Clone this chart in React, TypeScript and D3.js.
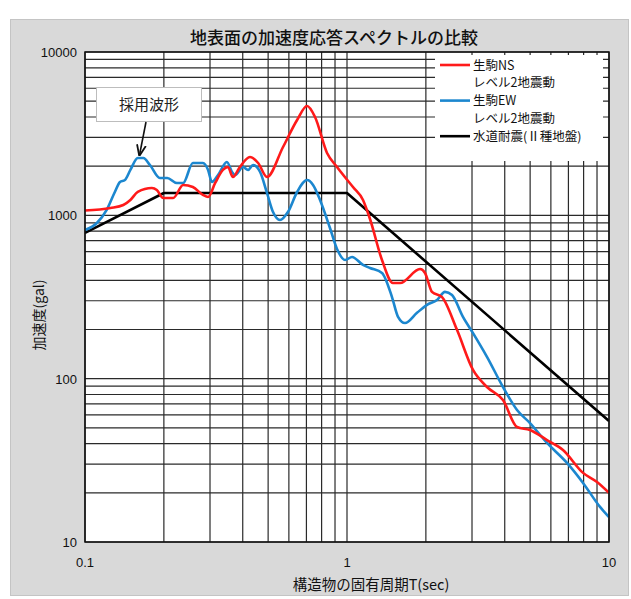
import React from 'react';
import * as d3 from 'd3';

// periods T (sec) and spectral acceleration (gal)
const nsT = [0.1, 0.125, 0.14, 0.149, 0.159, 0.18, 0.188, 0.199, 0.217, 0.237, 0.258, 0.282, 0.295, 0.314, 0.336, 0.351, 0.367, 0.39, 0.426, 0.458, 0.495, 0.57, 0.645, 0.704, 0.755, 0.839, 0.916, 1.054, 1.151, 1.224, 1.36, 1.498, 1.594, 1.9, 1.985, 2.11, 2.305, 2.629, 3.027, 3.422, 3.939, 4.456, 4.994, 5.799, 6.674, 7.96, 9.0, 10];
const nsA = [1070, 1109, 1157, 1242, 1390, 1469, 1429, 1276, 1276, 1535, 1490, 1334, 1294, 1578, 1896, 1977, 1718, 1977, 2276, 2091, 1718, 2620, 3836, 4670, 4000, 2408, 1977, 1490, 1242, 950, 533, 385, 385, 469, 444, 340, 316, 199, 113, 88.9, 74, 50.6, 48.5, 42.1, 36.6, 26.5, 23.3, 20];

const ewT = [0.1, 0.111, 0.121, 0.13, 0.136, 0.142, 0.149, 0.159, 0.167, 0.177, 0.193, 0.206, 0.224, 0.237, 0.258, 0.282, 0.295, 0.305, 0.322, 0.348, 0.364, 0.374, 0.401, 0.419, 0.438, 0.466, 0.495, 0.522, 0.555, 0.595, 0.645, 0.704, 0.742, 0.789, 0.861, 0.916, 0.983, 1.045, 1.151, 1.224, 1.36, 1.485, 1.566, 1.665, 1.85, 2.02, 2.206, 2.366, 2.517, 2.771, 3.027, 3.422, 3.939, 4.456, 4.994, 5.799, 6.913, 7.96, 9.24, 10];
const ewA = [813, 897, 1079, 1390, 1600, 1645, 1896, 2244, 2244, 2033, 1694, 1694, 1578, 1578, 2091, 2091, 1896, 1600, 1766, 2122, 1843, 1766, 1977, 1896, 2033, 1843, 1371, 1047, 936, 1047, 1390, 1645, 1535, 1242, 837, 622, 533, 556, 497, 476, 444, 316, 239, 219, 253, 283, 303, 340, 325, 239, 190, 136, 88.9, 64.3, 53.5, 40.4, 30.5, 23, 16.4, 14.2];

const stdT = [0.1, 0.2, 1.0, 10];
const stdA = [780, 1370, 1370, 55];

const xTicks = [0.1, 1, 10];
const xTickLabels = ['0.1', '1', '10'];
const yTicks = [10, 100, 1000, 10000];
const yTickLabels = ['10', '100', '1000', '10000'];

const legendNames = ['生駒NS', 'レベル2地震動', '生駒EW', 'レベル2地震動', '水道耐震(Ⅱ種地盤)'];
const legendColors = ['#ff1a1a', null, '#1c87cf', null, '#000000'];

const JP = '"Noto Sans CJK JP", "Noto Sans", sans-serif';
const NUM = '"Liberation Sans", Arial, sans-serif';

export default function App() {
  const W = 631;
  const H = 599;
  const left = 85, right = 609, top = 52, bottom = 542;

  const x = d3.scaleLog().domain([0.1, 10]).range([left, right]);
  const y = d3.scaleLog().domain([10, 10000]).range([bottom, top]);

  const smooth = d3
    .line<[number, number]>()
    .x(d => x(d[0]))
    .y(d => y(d[1]))
    .curve(d3.curveMonotoneX);
  const straight = d3
    .line<[number, number]>()
    .x(d => x(d[0]))
    .y(d => y(d[1]));

  const ns = nsT.map((t, i) => [t, nsA[i]] as [number, number]);
  const ew = ewT.map((t, i) => [t, ewA[i]] as [number, number]);
  const std = stdT.map((t, i) => [t, stdA[i]] as [number, number]);

  // gridlines 1..9 x each decade
  const xGrid: number[] = [];
  for (const dec of [0.1, 1]) for (let k = 1; k <= 9; k++) xGrid.push(dec * k);
  xGrid.push(10);
  const yGrid: number[] = [];
  for (const dec of [10, 100, 1000]) for (let k = 1; k <= 9; k++) yGrid.push(dec * k);
  yGrid.push(10000);

  const series = [
    { d: straight(std), color: '#000000' },
    { d: smooth(ew), color: '#1c87cf' },
    { d: smooth(ns), color: '#ff1a1a' },
  ];

  // legend box
  const lg = { x: 435, y: 55, w: 168, h: 106 };
  const rowH = 17.8;

  return (
    <svg width={W} height={H} style={{ position: 'absolute', left: 0, top: 0 }}>
      <rect x={0} y={0} width={W} height={H} fill="#ffffff" />
      <rect x={10.5} y={19.5} width={618} height={576} fill="#d9d9d9" stroke="#c4c4c4" />
      <text x={334} y={44} textAnchor="middle" fontFamily={JP} fontSize={17} fontWeight={500} fill="#111">
        地表面の加速度応答スペクトルの比較
      </text>

      <defs>
        <clipPath id="plotClip">
          <rect x={left} y={top} width={right - left} height={bottom - top} />
        </clipPath>
        <marker id="arrow" viewBox="0 0 10 10" refX={9} refY={5} markerWidth={7} markerHeight={7} orient="auto">
          <path d="M0,1 L10,5 L0,9" fill="none" stroke="#111" strokeWidth={1.6} />
        </marker>
      </defs>

      <rect x={left} y={top} width={right - left} height={bottom - top} fill="#ffffff" />

      <g stroke="#2a2a2a" strokeWidth={1.2}>
        {xGrid.map((v, i) => (
          <line key={'vx' + i} x1={x(v)} x2={x(v)} y1={top} y2={bottom} />
        ))}
        {yGrid.map((v, i) => (
          <line key={'hy' + i} x1={left} x2={right} y1={y(v)} y2={y(v)} />
        ))}
      </g>

      <g clipPath="url(#plotClip)" fill="none" strokeWidth={2.6} strokeLinejoin="round">
        {series.map((s, i) => (
          <path key={i} d={s.d || ''} stroke={s.color} />
        ))}
      </g>

      <rect x={left} y={top} width={right - left} height={bottom - top} fill="none" stroke="#111" strokeWidth={1.5} />

      {/* legend */}
      <rect x={lg.x} y={lg.y} width={lg.w} height={lg.h} fill="#ffffff" />
      {legendNames.map((name, i) => {
        const cy = lg.y + 10 + i * rowH;
        const c = legendColors[i];
        return (
          <g key={'lg' + i}>
            {c && <line x1={lg.x + 5} x2={lg.x + 35} y1={cy} y2={cy} stroke={c} strokeWidth={2.6} />}
            <text x={lg.x + 38} y={cy + 4.5} fontFamily={JP} fontSize={12.5} fill="#111">
              {name}
            </text>
          </g>
        );
      })}

      {/* annotation */}
      <rect x={96.5} y={87.5} width={105} height={34} fill="#ffffff" stroke="#bdbdbd" />
      <text x={149} y={109.5} textAnchor="middle" fontFamily={JP} fontSize={15} fill="#222">
        採用波形
      </text>
      <line x1={146} y1={122} x2={139.5} y2={155} stroke="#111" strokeWidth={1.6} markerEnd="url(#arrow)" />

      {/* axes labels */}
      {yTicks.map((v, i) => (
        <text key={'yt' + i} x={77} y={y(v) + 5} textAnchor="end" fontFamily={NUM} fontSize={13} fill="#111">
          {yTickLabels[i]}
        </text>
      ))}
      {xTicks.map((v, i) => (
        <text key={'xt' + i} x={x(v)} y={567} textAnchor="middle" fontFamily={NUM} fontSize={13} fill="#111">
          {xTickLabels[i]}
        </text>
      ))}
      <text x={371} y={590} textAnchor="middle" fontFamily={JP} fontSize={14.5} fill="#111">
        構造物の固有周期T(sec)
      </text>
      <text
        transform="translate(44,315) rotate(-90)"
        textAnchor="middle"
        fontFamily={JP}
        fontSize={14}
        fill="#111"
      >
        加速度(gal)
      </text>
    </svg>
  );
}
